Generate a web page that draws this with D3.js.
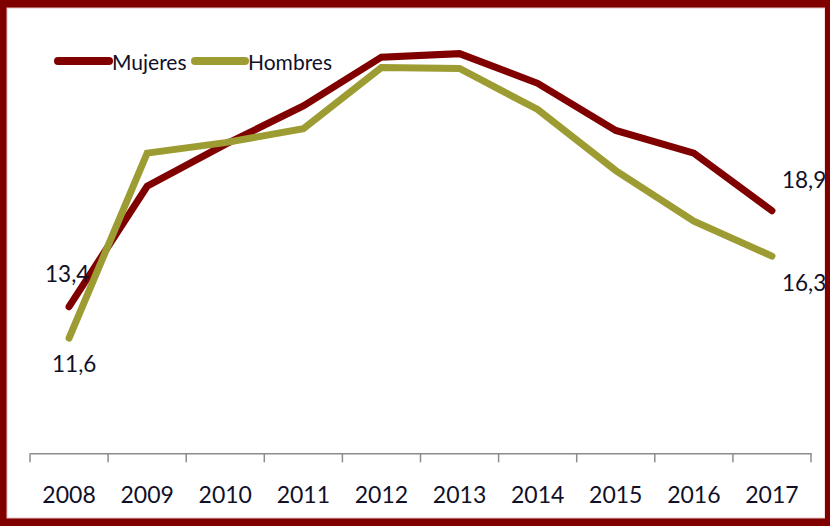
<!DOCTYPE html>
<html>
<head>
<meta charset="utf-8">
<script src="https://cdn.jsdelivr.net/npm/d3@7"></script>
<style>
  html, body { margin: 0; padding: 0; background: #fff; }
  svg { display: block; }
</style>
</head>
<body>
<svg id="chart" width="830" height="526"></svg>
<script>
// ---- data ----
const years = ["2008","2009","2010","2011","2012","2013","2014","2015","2016","2017"];
const mujeres = [13.4, 20.3, 22.7, 24.9, 27.7, 27.9, 26.2, 23.5, 22.2, 18.9];
const hombres = [11.6, 22.2, 22.8, 23.6, 27.1, 27.05, 24.7, 21.2, 18.3, 16.3];
const seriesNames = ["Mujeres", "Hombres"];
const seriesColors = ["#800000", "#9c9c33"];
const endLabels = [["13,4", "18,9"], ["11,6", "16,3"]];

const W = 830, H = 526;
const svg = d3.select("#chart");
const font = "Lato, 'Open Sans', sans-serif";
const textColor = "#101028";

// frame
svg.append("rect").attr("x", 0).attr("y", 0).attr("width", W).attr("height", H).attr("fill", "#800000");
svg.append("rect").attr("x", 7).attr("y", 8).attr("width", 818).attr("height", 510)
  .attr("fill", "#fff").attr("stroke", "#e6c4c4").attr("stroke-width", 1);

const x = d3.scaleBand().domain(years).range([30, 811]).padding(0);
const y = d3.scaleLinear().domain([5, 30]).range([453.3, 17]);

// axis
const axisG = svg.append("g").attr("transform", `translate(0,${y(5)})`)
  .call(d3.axisBottom(x).tickSize(0).tickSizeOuter(0));
axisG.select(".domain").attr("stroke", "#8c8c8c").attr("stroke-width", 1.5);
axisG.selectAll(".tick text")
  .attr("y", 50).attr("dy", 0)
  .attr("font-family", font).attr("font-size", 23).attr("fill", textColor);
// tick marks at band boundaries
const bounds = years.map(d => x(d)).concat([x(years[years.length - 1]) + x.bandwidth()]);
axisG.selectAll(".bound").data(bounds).enter().append("line")
  .attr("x1", d => d).attr("x2", d => d).attr("y1", 0).attr("y2", 9)
  .attr("stroke", "#8c8c8c").attr("stroke-width", 1.5);

// lines
const line = d3.line()
  .x((d, i) => x(years[i]) + x.bandwidth() / 2)
  .y(d => y(d));
[mujeres, hombres].forEach((s, k) => {
  svg.append("path").datum(s)
    .attr("d", line)
    .attr("fill", "none")
    .attr("stroke", seriesColors[k])
    .attr("stroke-width", 7)
    .attr("stroke-linecap", "round")
    .attr("stroke-linejoin", "miter");
});

// end labels
const cx = i => x(years[i]) + x.bandwidth() / 2;
const labelDefs = [
  { s: 0, i: 0, dx: -24, dy: -25 },
  { s: 1, i: 0, dx: -17, dy: 34 },
  { s: 0, i: 9, dx: 10, dy: -23 },
  { s: 1, i: 9, dx: 10, dy: 35 }
];
labelDefs.forEach(l => {
  const vals = l.s === 0 ? mujeres : hombres;
  svg.append("text")
    .attr("x", cx(l.i) + l.dx)
    .attr("y", y(vals[l.i]) + l.dy)
    .attr("font-family", font).attr("font-size", 22.5).attr("fill", textColor)
    .text(endLabels[l.s][l.i === 0 ? 0 : 1]);
});

// legend
const legendItems = [
  { x1: 58, x2: 109, tx: 112 },
  { x1: 195, x2: 245, tx: 248 }
];
legendItems.forEach((li, k) => {
  svg.append("line").attr("x1", li.x1).attr("x2", li.x2).attr("y1", 61).attr("y2", 61)
    .attr("stroke", seriesColors[k]).attr("stroke-width", 8).attr("stroke-linecap", "round");
  svg.append("text").attr("x", li.tx).attr("y", 70)
    .attr("font-family", font).attr("font-size", 21).attr("fill", textColor)
    .text(seriesNames[k]);
});

// redraw right border on top so labels are clipped like the reference
svg.append("rect").attr("x", 825).attr("y", 0).attr("width", 5).attr("height", H).attr("fill", "#800000");
</script>
</body>
</html>
